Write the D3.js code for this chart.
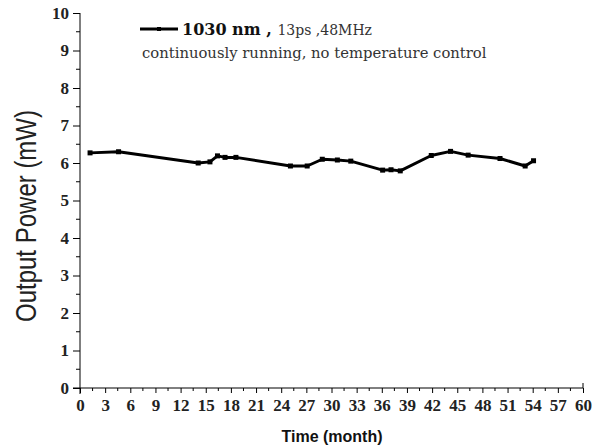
<!DOCTYPE html>
<html>
<head>
<meta charset="utf-8">
<script src="https://cdn.jsdelivr.net/npm/d3@7"></script>
<style>
body { margin: 0; background: #fff; }
</style>
</head>
<body>
<svg id="chart" width="601" height="448"></svg>
<script>
// months since start and measured output power
var months = [1.2, 4.6, 14.1, 15.5, 16.4, 17.3, 18.6, 25.1, 27.1, 28.9, 30.7, 32.3, 36.1, 37.1, 38.2, 41.9, 44.2, 46.3, 50.1, 53.1, 54.1];
var power = [6.27, 6.3, 6.0, 6.03, 6.19, 6.15, 6.15, 5.92, 5.92, 6.1, 6.08, 6.05, 5.81, 5.82, 5.79, 6.2, 6.31, 6.21, 6.12, 5.92, 6.06];
var xTicks = d3.range(0, 61, 3);
var yTicks = d3.range(0, 11, 1);

var svg = d3.select("#chart");
var plotLeft = 80, plotRight = 583, plotTop = 13, plotBottom = 388;

var xScale = d3.scaleLinear().domain([0, 60]).range([plotLeft, plotRight]);
var yScale = d3.scaleLinear().domain([0, 10]).range([plotBottom, plotTop]);

var data = months.map((m, i) => ({month: m, value: power[i]}));

var serif = "'DejaVu Serif', serif";
var tickFont = "'Liberation Serif', serif";

// y axis
var yAxis = d3.axisLeft(yScale).tickValues(yTicks).tickSize(7).tickPadding(4);
var gy = svg.append('g')
	.attr('transform', 'translate(' + plotLeft + ',0)')
	.call(yAxis);
gy.select('.domain').attr('d', 'M0,' + plotTop + 'V' + (plotBottom + 6));
gy.selectAll('text')
	.attr('font-family', tickFont)
	.attr('font-weight', 'bold')
	.attr('font-size', '17px')
	.attr('fill', '#222');
// minor y ticks
gy.selectAll('.minor')
	.data(d3.range(0.5, 10, 1))
	.enter().append('line')
	.attr('x1', 0).attr('x2', -4)
	.attr('y1', d => yScale(d)).attr('y2', d => yScale(d))
	.attr('stroke', '#000');

// x axis
var xAxis = d3.axisBottom(xScale).tickValues(xTicks).tickSize(5).tickPadding(6);
var gx = svg.append('g')
	.attr('transform', 'translate(0,' + plotBottom + ')')
	.call(xAxis);
gx.select('.domain').attr('d', 'M' + (plotLeft - 7) + ',0H' + plotRight + 'V-5');
gx.selectAll('text')
	.attr('font-family', tickFont)
	.attr('font-weight', 'bold')
	.attr('font-size', '17px')
	.attr('fill', '#222');
gx.selectAll('.minor')
	.data(d3.range(1.5, 60, 3))
	.enter().append('line')
	.attr('x1', d => xScale(d)).attr('x2', d => xScale(d))
	.attr('y1', 0).attr('y2', 3)
	.attr('stroke', '#000');

// axis titles
svg.append('text')
	.attr('transform', 'translate(36,216) rotate(-90) scale(1,1.2)')
	.attr('text-anchor', 'middle')
	.attr('font-family', "'Liberation Sans', Arial, sans-serif")
	.attr('font-size', '24px')
	.attr('fill', '#222')
	.text('Output Power (mW)');

svg.append('text')
	.attr('x', 332)
	.attr('y', 442)
	.attr('text-anchor', 'middle')
	.attr('font-family', "'Liberation Sans', Arial, sans-serif")
	.attr('font-weight', 'bold')
	.attr('font-size', '16px')
	.attr('fill', '#111')
	.text('Time (month)');

// data line
var line = d3.line().x(d => xScale(d.month)).y(d => yScale(d.value));
svg.append('path')
	.datum(data)
	.attr('d', line)
	.attr('fill', 'none')
	.attr('stroke', '#000')
	.attr('stroke-width', 3)
	.attr('stroke-linejoin', 'round');

svg.selectAll('.pt')
	.data(data)
	.enter().append('rect')
	.classed('pt', true)
	.attr('x', d => xScale(d.month) - 2.5)
	.attr('y', d => yScale(d.value) - 2.5)
	.attr('width', 5)
	.attr('height', 5)
	.attr('fill', '#000');

// legend
var lg = svg.append('g').attr('transform', 'translate(140,29)');
lg.append('line')
	.attr('x1', 0).attr('x2', 38).attr('y1', 0).attr('y2', 0)
	.attr('stroke', '#000').attr('stroke-width', 3);
lg.append('rect')
	.attr('x', 17).attr('y', -2).attr('width', 4).attr('height', 4)
	.attr('fill', '#000');
var lt = lg.append('text')
	.attr('x', 42).attr('y', 6)
	.attr('font-family', serif)
	.attr('fill', '#111');
lt.append('tspan').attr('font-weight', 'bold').attr('font-size', '16px').text('1030 nm , ');
lt.append('tspan').attr('font-size', '14px').attr('fill', '#333').text('13ps ,48MHz');

svg.append('text')
	.attr('x', 142).attr('y', 58)
	.attr('font-family', serif)
	.attr('font-size', '14.8px')
	.attr('fill', '#333')
	.text('continuously running, no temperature control');
</script>
</body>
</html>
